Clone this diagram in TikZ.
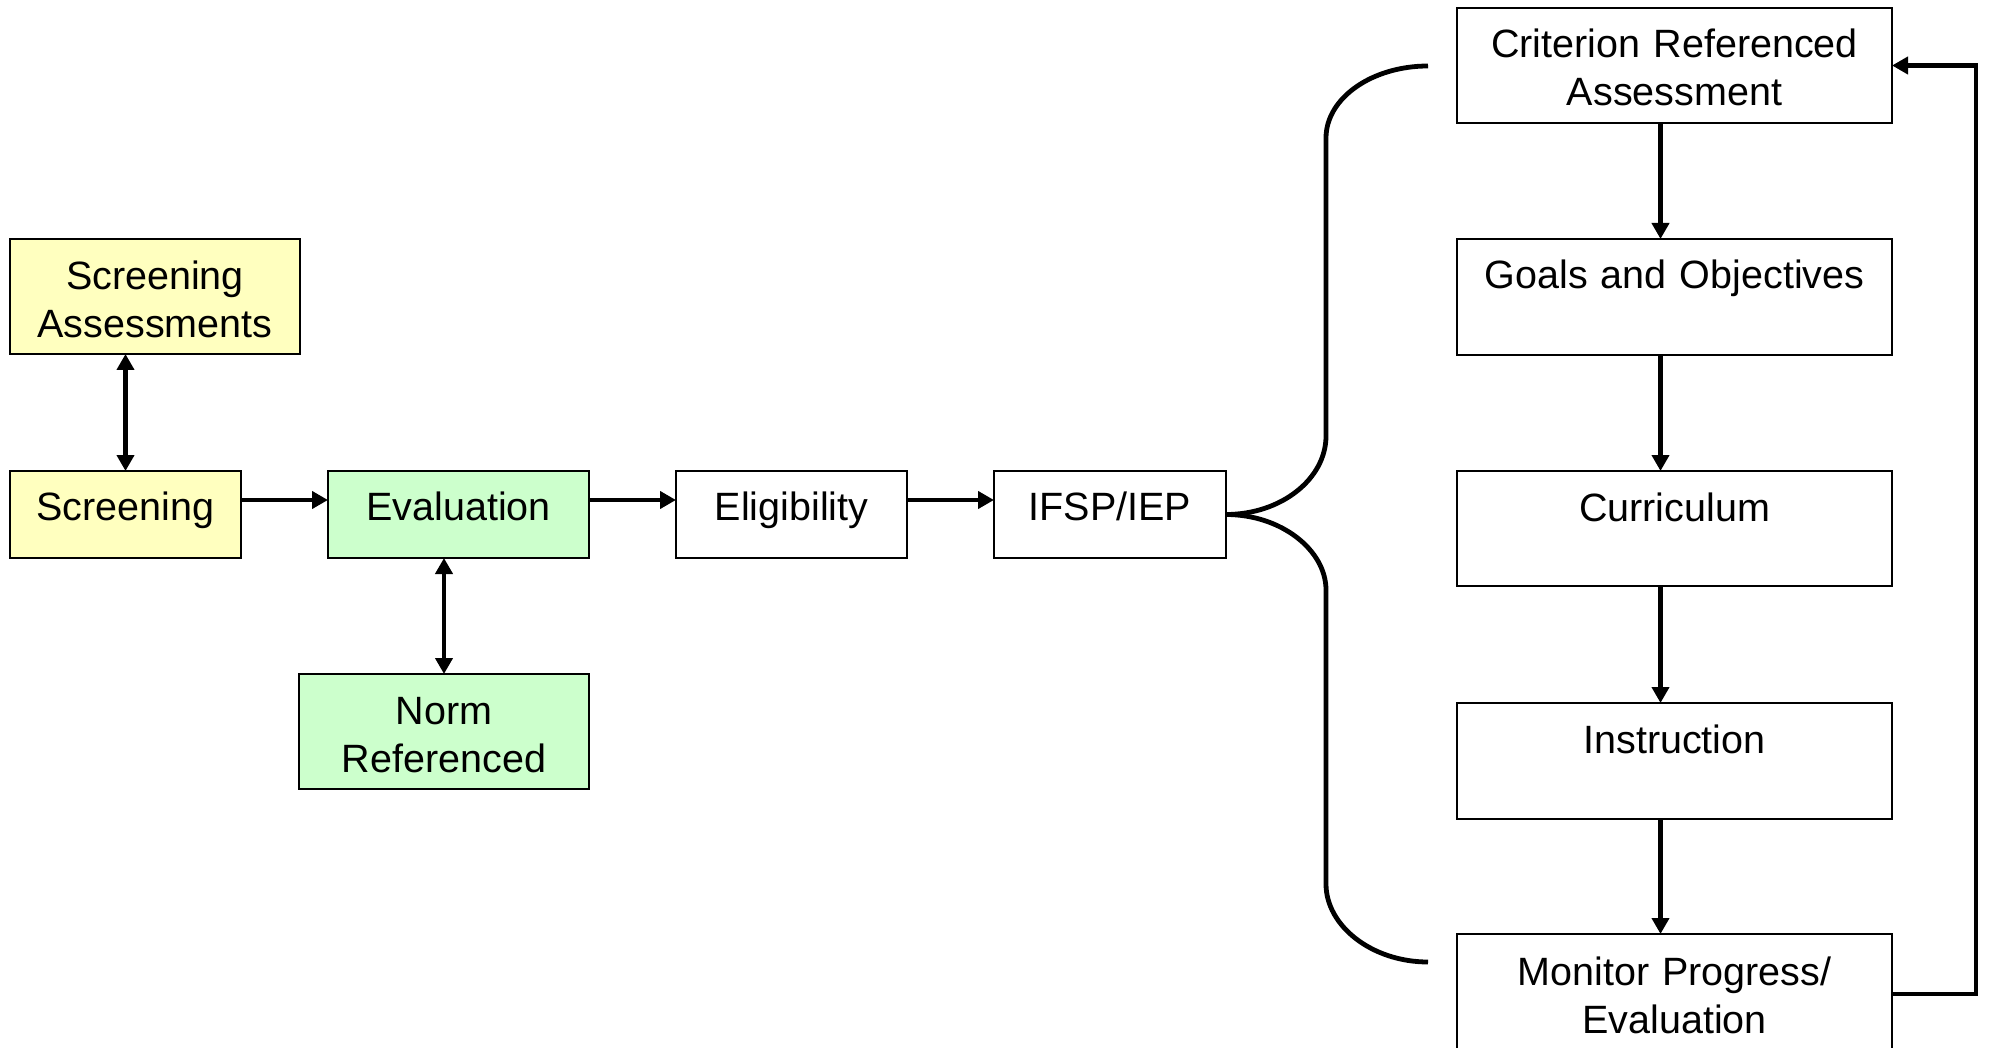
\documentclass[tikz,border=0pt]{standalone}
\usepackage{fontspec}
\setmainfont{Liberation Sans}
\usetikzlibrary{arrows.meta,calc}
\definecolor{boxyellow}{HTML}{FFFFBF}
\definecolor{boxgreen}{HTML}{CCFFCC}
\tikzset{
  box/.style={draw=black, line width=1.8pt, inner sep=0pt, outer sep=0pt, anchor=north west},
  txt/.style={inner sep=0pt, anchor=base, align=center, text width=430pt,
    font=\fontsize{39.5}{48}\selectfont},
  conn/.style={line width=4.8pt},
  arr/.style={conn, -{Triangle[length=16pt,width=17pt]}},
  darr/.style={conn, {Triangle[length=16pt,width=17pt]}-{Triangle[length=16pt,width=17pt]}},
}
\begin{document}
\begin{tikzpicture}[x=1pt,y=-1pt]
\useasboundingbox (0,0) rectangle (1992,1048);
\fill[white] (0,0) rectangle (1992,1048);

% boxes
\node[box, fill=boxyellow, minimum width=290pt, minimum height=115pt] (sa) at (10,239) {};
\node[box, fill=boxyellow, minimum width=231pt, minimum height=87pt] (scr) at (10,471) {};
\node[box, fill=boxgreen, minimum width=261pt, minimum height=87pt] (eval) at (328,471) {};
\node[box, fill=boxgreen, minimum width=290pt, minimum height=115pt] (norm) at (299,674) {};
\node[box, minimum width=231pt, minimum height=87pt] (elig) at (676,471) {};
\node[box, minimum width=232pt, minimum height=87pt] (ifsp) at (994,471) {};
\node[box, minimum width=435pt, minimum height=115pt] (cra) at (1457,8) {};
\node[box, minimum width=435pt, minimum height=116pt] (goals) at (1457,239) {};
\node[box, minimum width=435pt, minimum height=115pt] (curr) at (1457,471) {};
\node[box, minimum width=435pt, minimum height=116pt] (instr) at (1457,703) {};
\node[box, minimum width=435pt, minimum height=118pt] (mon) at (1457,934) {};

% texts
\node[txt] (tsa) at (155,290) {Screening\\Assessments};
\node[txt] (tscr) at (125.5,520) {Screening};
\node[txt] (teval) at (458.5,520) {Evaluation};
\node[txt] (tnorm) at (444,724) {Norm\\Referenced};
\node[txt] (telig) at (791.5,520) {Eligibility};
\node[txt] (tifsp) at (1110,520) {IFSP/IEP};
\node[txt] (tcra) at (1674.5,58) {Criterion Referenced\\Assessment};
\node[txt] (tgoals) at (1674.5,289) {Goals and Objectives};
\node[txt] (tcurr) at (1674.5,521) {Curriculum};
\node[txt] (tinstr) at (1674.5,753) {Instruction};
\node[txt] (tmon) at (1674.5,985) {Monitor Progress/\\Evaluation};

% left connectors
\draw[darr] (scr.north) -- (scr.north |- sa.south);
\draw[darr] (norm.north) -- (norm.north |- eval.south);
\draw[arr] ([yshift=14.5pt]scr.east) -- ([yshift=14.5pt]eval.west);
\draw[arr] ([yshift=14.5pt]eval.east) -- ([yshift=14.5pt]elig.west);
\draw[arr] ([yshift=14.5pt]elig.east) -- ([yshift=14.5pt]ifsp.west);

% right column
\draw[arr] ([xshift=-14pt]cra.south) -- ([xshift=-14pt]goals.north);
\draw[arr] ([xshift=-14pt]goals.south) -- ([xshift=-14pt]curr.north);
\draw[arr] ([xshift=-14pt]curr.south) -- ([xshift=-14pt]instr.north);
\draw[arr] ([xshift=-14pt]instr.south) -- ([xshift=-14pt]mon.north);

% brace
\coordinate (btop) at (1428,66);
\coordinate (bbot) at (1428,962);
\draw[conn] (ifsp.east) .. controls (1281,514.5) and (1326,479) .. (1326,436)
  -- (1326,138) .. controls (1326,98) and (1372,66) .. (btop);
\draw[conn] (ifsp.east) .. controls (1281,514.5) and (1326,550) .. (1326,590)
  -- (1326,884) .. controls (1326,926) and (1372,962) .. (bbot);

% feedback loop
\coordinate (fb) at (1976,500);
\draw[arr] ([yshift=-1pt]mon.east) -| (fb) |- (cra.east);
\end{tikzpicture}
\end{document}
